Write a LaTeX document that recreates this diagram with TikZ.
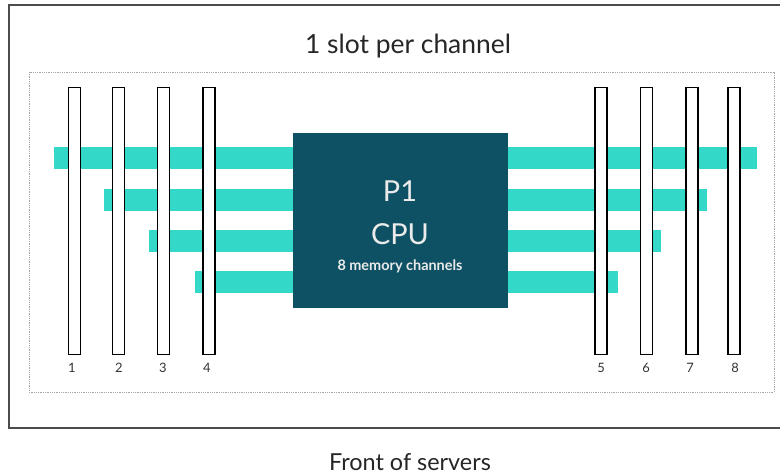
\documentclass[tikz,border=0pt]{standalone}
\usepackage{fontspec}
\setmainfont{Lato}
\usetikzlibrary{positioning}
\definecolor{cputeal}{HTML}{0F5164}
\definecolor{chanteal}{HTML}{33D8C8}
\tikzset{
 dimm/.style={draw=black, fill=white, line width=1.7bp, minimum width=12bp,
   minimum height=267bp, inner sep=0pt},
 chan/.style={fill=chanteal},
 slotnum/.style={font=\fontsize{13}{13}\selectfont, text=black!80, anchor=base},
 cputext/.style={text=white!92!black, anchor=base},
}

\begin{document}
\begin{tikzpicture}[x=1bp,y=-1bp]
 \useasboundingbox (0,0) rectangle (780,475);
 % frame and board
 \draw[line width=1.3bp, black!70] (780,5) -- (9,5) -- (9,428) -- (780,428);
 \draw[black!35, densely dotted, line width=0.8bp] (29,72) rectangle (774,392);
 \node[anchor=base, font=\fontsize{26.5}{30}\selectfont, text=black!85] (title) at (408,54) {1 slot per channel};
 \node[anchor=base, font=\fontsize{23.5}{27}\selectfont, text=black!85] (front) at (410,470) {Front of servers};
%
 % memory channels
 \fill[chan] (54,147) rectangle (757,169);
 \fill[chan] (104,189) rectangle (707,211);
 \fill[chan] (149,230) rectangle (661,252);
 \fill[chan] (195,271) rectangle (618,293);
%
 \node[dimm] (slot1) at (74.5,221) {};
 \node[dimm] (slot2) at (118.5,221) {};
 \node[dimm] (slot3) at (163.5,221) {};
 \node[dimm] (slot4) at (209,221) {};
 \node[dimm] (slot5) at (601,221) {};
 \node[dimm] (slot6) at (646.5,221) {};
 \node[dimm] (slot7) at (692,221) {};
 \node[dimm] (slot8) at (734,221) {};
 \node[slotnum] (num1) at (72,373) {1};
 \node[slotnum] (num2) at (119,373) {2};
 \node[slotnum] (num3) at (163,373) {3};
 \node[slotnum] (num4) at (207,373) {4};
 \node[slotnum] (num5) at (601,373) {5};
 \node[slotnum] (num6) at (646,373) {6};
 \node[slotnum] (num7) at (690,373) {7};
 \node[slotnum] (num8) at (735,373) {8};
%
 % processor
 \node[fill=cputeal, minimum width=215bp, minimum height=175bp, inner sep=0pt] (cpu) at (400.5,220.5) {};
 \node[cputext, font=\fontsize{29}{33}\selectfont] (p1) at (400,202) {P1};
 \node[cputext, font=\fontsize{29}{33}\selectfont] (cpuname) at (400,245) {CPU};
 \node[cputext, font=\fontsize{14.5}{17}\selectfont\bfseries] (channels) at (400,271) {8 memory channels};
\end{tikzpicture}
\end{document}
